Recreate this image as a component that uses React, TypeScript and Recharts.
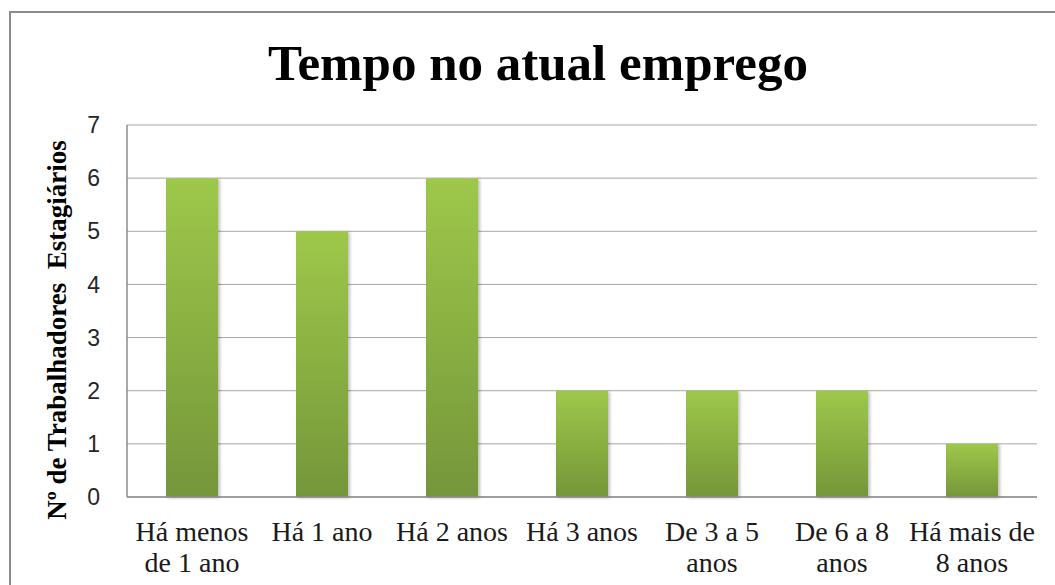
import { BarChart, Bar, XAxis, YAxis, CartesianGrid, Customized } from 'recharts';

const categories = [
  'Há menos\nde 1 ano',
  'Há 1 ano',
  'Há 2 anos',
  'Há 3 anos',
  'De 3 a 5\nanos',
  'De 6 a 8\nanos',
  'Há mais de\n8 anos',
];
const workers = [6, 5, 6, 2, 2, 2, 1];
const yTicks = [0, 1, 2, 3, 4, 5, 6, 7];

const data = categories.map((name, i) => ({ name, value: workers[i] }));

const serif = '"Liberation Serif", "Times New Roman", serif';
const sans = '"Liberation Sans", Arial, sans-serif';

function CategoryTick({ x, y, payload }: any) {
  const lines = String(payload.value).split('\n');
  return (
    <text x={x} y={y} textAnchor="middle" fontFamily={serif} fontSize={28} fill="#1a1a1a">
      {lines.map((l, i) => (
        <tspan key={i} x={x} dy={i === 0 ? 42 : 31}>
          {l}
        </tspan>
      ))}
    </text>
  );
}

export default function App() {
  return (
    <div style={{ position: 'absolute', left: 0, top: 0, width: 1055, height: 585, background: '#fff', overflow: 'hidden' }}>
      <div
        style={{
          position: 'absolute',
          left: 9,
          top: 11,
          width: 1100,
          height: 640,
          borderLeft: '2px solid #8c8c8c',
          borderTop: '2px solid #8c8c8c',
        }}
      />
      <BarChart
        width={1055}
        height={585}
        data={data}
        margin={{ top: 125, right: 18, bottom: 0, left: 0 }}
        barCategoryGap="30%"
        style={{ position: 'absolute', left: 0, top: 0 }}
      >
        <defs>
          <linearGradient id="barFill" x1="0" y1="0" x2="0" y2="1">
            <stop offset="0%" stopColor="#9ec84a" />
            <stop offset="100%" stopColor="#75963a" />
          </linearGradient>
          <filter id="barShadow" x="-10%" y="-10%" width="130%" height="120%">
            <feDropShadow dx="2" dy="1" stdDeviation="1.5" floodColor="#000" floodOpacity="0.25" />
          </filter>
        </defs>
        <CartesianGrid vertical={false} stroke="#a6a6a6" strokeWidth={1} />
        <XAxis
          dataKey="name"
          interval={0}
          tickLine={false}
          tickSize={0}
          axisLine={{ stroke: '#8c8c8c', strokeWidth: 1.5 }}
          tick={<CategoryTick />}
          height={88}
        />
        <YAxis
          domain={[0, 7]}
          ticks={yTicks}
          width={127}
          tickLine={false}
          tickSize={0}
          tickMargin={27}
          axisLine={{ stroke: '#8c8c8c', strokeWidth: 1.5 }}
          tick={{ fontFamily: sans, fontSize: 23, fill: '#262626' }}
          label={{
            content: () => (
              <text
                x={57}
                y={330}
                transform="rotate(-90 57 330)"
                textAnchor="middle"
                dominantBaseline="central"
                fontFamily={serif}
                fontWeight="bold"
                fontSize={27}
                fill="#000"
                style={{ whiteSpace: 'pre' }}
              >
                {'Nº de Trabalhadores  Estagiários'}
              </text>
            ),
          }}
        />
        <Bar dataKey="value" fill="url(#barFill)" filter="url(#barShadow)" isAnimationActive={false} />
        <Customized
          component={() => (
            <text x={538} y={80} textAnchor="middle" fontFamily={serif} fontWeight="bold" fontSize={51} fill="#000">
              Tempo no atual emprego
            </text>
          )}
        />
      </BarChart>
    </div>
  );
}
